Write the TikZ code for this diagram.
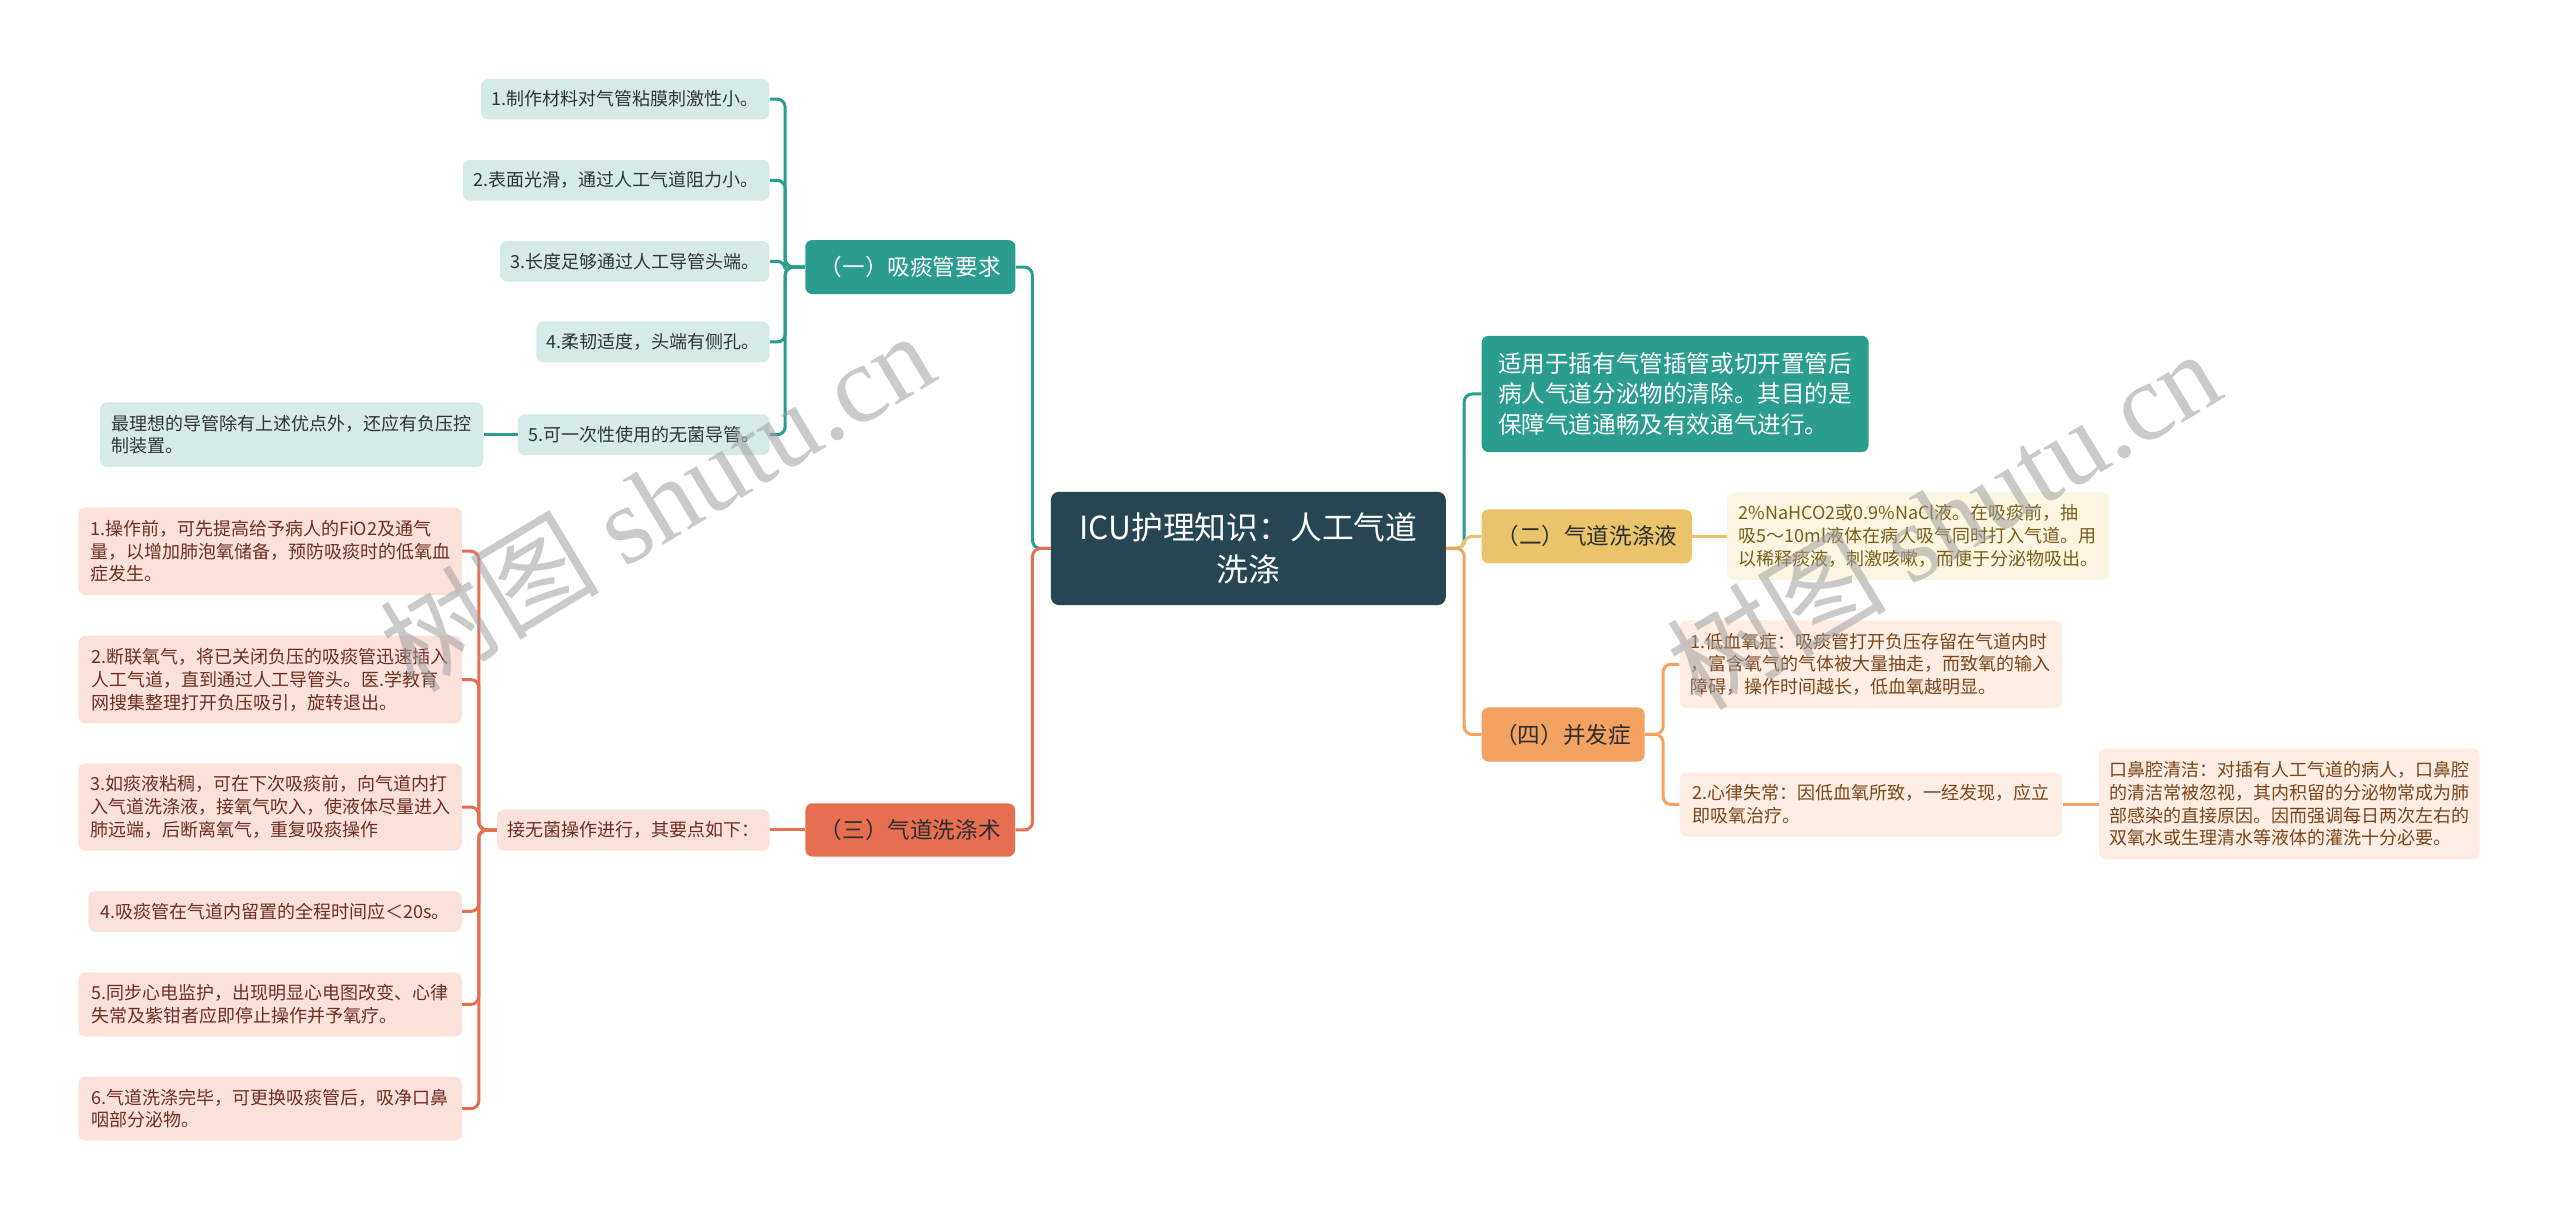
\documentclass[tikz,border=0pt]{standalone}
\usepackage{fontspec}
\setmainfont{Noto Sans CJK SC}
\newfontfamily\wmlatin{Liberation Serif}
\definecolor{rootc}{HTML}{264653}
\definecolor{tealA}{HTML}{2A9D8F}
\definecolor{goldA}{HTML}{E9C46A}
\definecolor{orngA}{HTML}{F4A261}
\definecolor{redA}{HTML}{E76F51}
\definecolor{tealL}{HTML}{D5EBE8}
\definecolor{goldL}{HTML}{FCF5E1}
\definecolor{orngL}{HTML}{FDEDE2}
\definecolor{redL}{HTML}{FAE2DB}
\definecolor{txtT}{HTML}{333333}
\definecolor{txtG}{HTML}{7A5D17}
\definecolor{txtO}{HTML}{7A451B}
\definecolor{txtR}{HTML}{6E2E20}
\definecolor{txtD}{HTML}{2E2E2E}
\definecolor{wmgray}{HTML}{A0A0A0}
\def\u{0.8205pt}
\tikzset{
  box/.style={rounded corners=3.5pt, inner sep=0pt, align=left, font=\fontsize{9}{11.4}\selectfont},
  leafT/.style={box, fill=tealL, text=txtT},
  leafR/.style={box, fill=redL, text=txtR},
  leafG/.style={box, fill=goldL, text=txtG},
  leafO/.style={box, fill=orngL, text=txtO},
  branch/.style={rounded corners=3.5pt, inner sep=0pt, font=\fontsize{11.3}{14}\selectfont},
  rootbox/.style={rounded corners=4pt, inner sep=0pt, fill=rootc, text=white, align=center, font=\fontsize{15.9}{20.8}\selectfont},
  con/.style={line width=1.5pt, rounded corners=4pt},
  wmark/.style={text=wmgray, opacity=0.55, font=\fontsize{55}{55}\selectfont, rotate=31}
}
\begin{document}
\begin{tikzpicture}[x=0.8205pt, y=-0.8205pt]
\fill[white] (0,0) rectangle (1560,743.4);
\useasboundingbox (0,0) rectangle (1560,743.4);

% root
\node[rootbox, minimum width=240.6*\u, minimum height=69*\u] (root) at (760.7,334.2) {ICU护理知识：人工气道\\洗涤};

% branch (一)
\node[branch, fill=tealA, text=white, minimum width=128.1*\u, minimum height=32.9*\u] (b1) at (554.75,162.75) {（一）吸痰管要求};
\node[leafT, minimum width=175.7*\u, minimum height=24.6*\u] (l1) at (381,60.4) {1.制作材料对气管粘膜刺激性小。};
\node[leafT, minimum width=186.9*\u, minimum height=24.8*\u] (l2) at (375.5,109.9) {2.表面光滑，通过人工气道阻力小。};
\node[leafT, minimum width=164.2*\u, minimum height=24.7*\u] (l3) at (386.8,159.25) {3.长度足够通过人工导管头端。};
\node[leafT, minimum width=142.1*\u, minimum height=24.8*\u] (l4) at (397.9,208.4) {4.柔韧适度，头端有侧孔。};
\node[leafT, minimum width=153.3*\u, minimum height=24.8*\u] (l5) at (392.3,264.9) {5.可一次性使用的无菌导管。};
\node[leafT, minimum width=233.6*\u, minimum height=39.3*\u] (l5c) at (177.8,264.9) {最理想的导管除有上述优点外，还应有负压控\\制装置。};

% branch (三)
\node[branch, fill=redA, text=txtD, minimum width=127.8*\u, minimum height=32.5*\u] (b3) at (554.7,505.75) {（三）气道洗涤术};
\node[leafR, minimum width=166*\u, minimum height=25.2*\u] (b3c) at (386,505.8) {接无菌操作进行，其要点如下：};
\node[leafR, minimum width=233.6*\u, minimum height=53.4*\u] (p1) at (164.6,335.9) {1.操作前，可先提高给予病人的FiO2及通气\\量，以增加肺泡氧储备，预防吸痰时的低氧血\\症发生。};
\node[leafR, minimum width=233.6*\u, minimum height=53.4*\u] (p2) at (164.6,414.1) {2.断联氧气，将已关闭负压的吸痰管迅速插入\\人工气道，直到通过人工导管头。医.学教育\\网搜集整理打开负压吸引，旋转退出。};
\node[leafR, minimum width=233.6*\u, minimum height=53.2*\u] (p3) at (164.6,491.8) {3.如痰液粘稠，可在下次吸痰前，向气道内打\\入气道洗涤液，接氧气吹入，使液体尽量进入\\肺远端，后断离氧气，重复吸痰操作};
\node[leafR, minimum width=227.5*\u, minimum height=24.8*\u] (p4) at (167.65,555.4) {4.吸痰管在气道内留置的全程时间应＜20s。};
\node[leafR, minimum width=233.6*\u, minimum height=39.2*\u] (p5) at (164.6,612.1) {5.同步心电监护，出现明显心电图改变、心律\\失常及紫钳者应即停止操作并予氧疗。};
\node[leafR, minimum width=233.6*\u, minimum height=39*\u] (p6) at (164.6,675.6) {6.气道洗涤完毕，可更换吸痰管后，吸净口鼻\\咽部分泌物。};

% right side
\node[rounded corners=3.5pt, inner sep=0pt, fill=tealA, text=white, align=left, font=\fontsize{11.8}{15.4}\selectfont, minimum width=235.8*\u, minimum height=70.9*\u] (tb) at (1020.8,240.05) {适用于插有气管插管或切开置管后\\病人气道分泌物的清除。其目的是\\保障气道通畅及有效通气进行。};
\node[branch, fill=goldA, text=txtD, minimum width=128.1*\u, minimum height=32.9*\u] (b2) at (966.95,326.85) {（二）气道洗涤液};
\node[leafG, minimum width=233.1*\u, minimum height=53.4*\u] (g1) at (1169.05,326.7) {2\%NaHCO2或0.9\%NaCl液。在吸痰前，抽\\吸5～10ml液体在病人吸气同时打入气道。用\\以稀释痰液，刺激咳嗽，而便于分泌物吸出。};
\node[branch, fill=orngA, text=txtD, minimum width=99.3*\u, minimum height=33.1*\u] (b4) at (952.55,447.55) {（四）并发症};
\node[leafO, minimum width=233*\u, minimum height=53.6*\u] (o1) at (1140.1,404.8) {1.低血氧症：吸痰管打开负压存留在气道内时\\，富含氧气的气体被大量抽走，而致氧的输入\\障碍，操作时间越长，低血氧越明显。};
\node[leafO, minimum width=233*\u, minimum height=39.2*\u] (o2) at (1140.1,490.2) {2.心律失常：因低血氧所致，一经发现，应立\\即吸氧治疗。};
\node[leafO, minimum width=231.9*\u, minimum height=67.6*\u] (oc) at (1395,489.8) {口鼻腔清洁：对插有人工气道的病人，口鼻腔\\的清洁常被忽视，其内积留的分泌物常成为肺\\部感染的直接原因。因而强调每日两次左右的\\双氧水或生理清水等液体的灌洗十分必要。};

% connectors
\draw[con, tealA] (root.west) -- ++(-11,0) |- (b1.east);
\draw[con, redA] (root.west) -- ++(-11,0) |- (b3.east);
\draw[con, tealA] (root.east) -- ++(11,0) |- (tb.west);
\draw[con, goldA] (root.east) -- ++(11,0) |- (b2.west);
\draw[con, orngA] (root.east) -- ++(11,0) |- (b4.west);
\foreach \n in {l1,l2,l3,l4,l5} \draw[con, tealA] (b1.west) -- ++(-12,0) |- (\n.east);
\draw[con, tealA] (l5.west) -- (l5.west -| l5c.east);
\draw[con, redA] (b3.west) -- (b3.west -| b3c.east);
\foreach \n in {p1,p2,p3,p4,p5,p6} \draw[con, redA] (b3c.west) -- ++(-11,0) |- (\n.east);
\draw[con, goldA] (b2.east) -- (b2.east -| g1.west);
\draw[con, orngA] (b4.east) -- ++(11,0) |- (o1.west);
\draw[con, orngA] (b4.east) -- ++(11,0) |- (o2.west);
\draw[con, orngA] (o2.east) -- (o2.east -| oc.west);

% watermarks
\node[wmark] (wm1) at (400,305) {树图 {\wmlatin shutu.cn}};
\node[wmark] (wm2) at (1184,316) {树图 {\wmlatin shutu.cn}};
\end{tikzpicture}
\end{document}
